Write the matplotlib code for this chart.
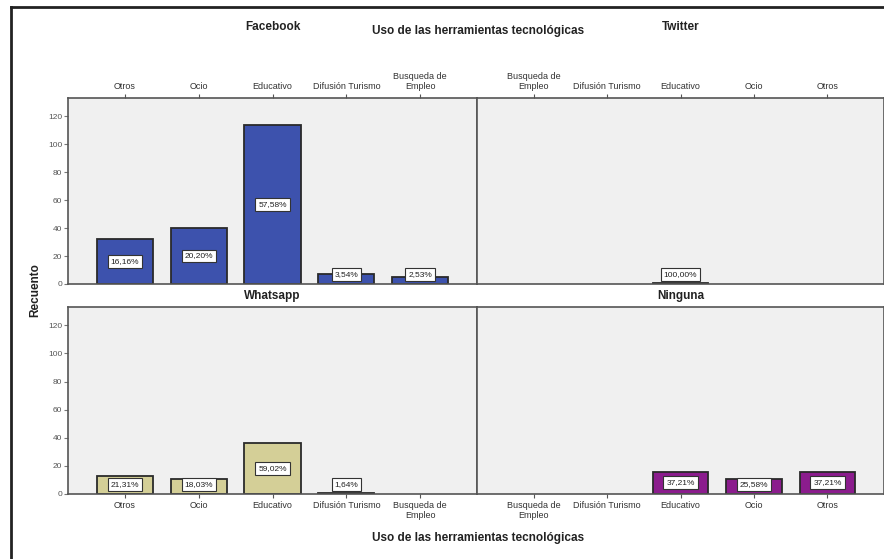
import matplotlib.pyplot as plt
import numpy as np
from matplotlib.lines import Line2D

plt.rcParams['font.family'] = ['Liberation Sans', 'DejaVu Sans']

# categories as shown on left and right panels (right panels are mirrored)
cats_left = ['Otros', 'Ocio', 'Educativo', 'Difusión Turismo', 'Busqueda de\nEmpleo']
cats_right = ['Busqueda de\nEmpleo', 'Difusión Turismo', 'Educativo', 'Ocio', 'Otros']

facebook = [32, 40, 114, 7, 5]
facebook_pct = ['16,16%', '20,20%', '57,58%', '3,54%', '2,53%']
twitter = [0, 0, 1, 0, 0]
twitter_pct = [None, None, '100,00%', None, None]
whatsapp = [13, 11, 36, 1, 0]
whatsapp_pct = ['21,31%', '18,03%', '59,02%', '1,64%', None]
ninguna = [0, 0, 16, 11, 16]
ninguna_pct = [None, None, '37,21%', '25,58%', '37,21%']

panel_titles = ['Facebook', 'Twitter', 'Whatsapp', 'Ninguna']
colors = ['#3d52ad', '#3d52ad', '#d4cf97', '#8b1c8d']
yticks = [0, 20, 40, 60, 80, 100, 120]

W, H = 884, 559
fig = plt.figure(figsize=(W / 100, H / 100), dpi=100)


def box(x0, y0, x1, y1):
    return [x0 / W, 1 - y1 / H, (x1 - x0) / W, (y1 - y0) / H]


rects = [box(68, 98, 477, 284), box(477, 98, 884, 284),
         box(68, 307, 477, 494), box(477, 307, 884, 494)]
values = [facebook, twitter, whatsapp, ninguna]
pcts = [facebook_pct, twitter_pct, whatsapp_pct, ninguna_pct]
spine_col = '#555555'

for i, r in enumerate(rects):
    ax = fig.add_axes(r)
    ax.set_facecolor('#f0f0f0')
    cats = cats_left if i % 2 == 0 else cats_right
    x = np.arange(len(cats))
    vals = values[i]
    # empty categories get no outline
    lws = [1.3 if v > 0 else 0 for v in vals]
    ax.bar(x, vals, width=0.76, color=colors[i], edgecolor='#2a2a2a', linewidth=lws, zorder=2)
    for xi, v, p in zip(x, vals, pcts[i]):
        if p is None:
            continue
        ypos = max(v / 2, 6.5)
        ax.text(xi, ypos, p, ha='center', va='center', fontsize=6, color='#222222', zorder=3,
                bbox=dict(boxstyle='square,pad=0.35', facecolor='white', edgecolor='#333333', linewidth=0.8))
    ax.set_xlim(-0.77, 4.77)
    ax.set_ylim(0, 133)
    ax.set_xticks(x)
    ax.set_xticklabels(cats, fontsize=6.5, color='#333333', linespacing=1.1)
    if i < 2:
        ax.xaxis.tick_top()
    ax.tick_params(axis='x', length=3, width=0.8, color='#555555', pad=2)
    if i % 2 == 0:
        ax.set_yticks(yticks)
        ax.set_yticklabels([str(t) for t in yticks], fontsize=6, color='#555555')
        ax.tick_params(axis='y', length=3, width=0.8, color='#777777', pad=1)
    else:
        ax.set_yticks([])
    for s in ax.spines.values():
        s.set_color(spine_col)
        s.set_linewidth(1.2)
    # panel title
    cx = (r[0] + r[2] / 2)
    ty = 27 if i < 2 else 296
    fig.text(cx, 1 - ty / H, panel_titles[i], ha='center', va='center', fontsize=8.5,
             fontweight='bold', color='#222222')

# overall axis labels
fig.text(478 / W, 1 - 31 / H, 'Uso de las herramientas tecnológicas', ha='center', va='center',
         fontsize=8.5, fontweight='bold', color='#222222')
fig.text(478 / W, 1 - 538 / H, 'Uso de las herramientas tecnológicas', ha='center', va='center',
         fontsize=8.5, fontweight='bold', color='#222222')
fig.text(35 / W, 1 - 290 / H, 'Recuento', ha='center', va='center', rotation=90,
         fontsize=8.5, fontweight='bold', color='#222222')

# outer frame (top and left edges, cropped on the other sides)
fig.add_artist(Line2D([11 / W, 1.0], [1 - 7 / H, 1 - 7 / H], color='#222222', linewidth=2))
fig.add_artist(Line2D([11 / W, 11 / W], [0.0, 1 - 7 / H], color='#222222', linewidth=2))

fig.savefig('out.png', dpi=100)
